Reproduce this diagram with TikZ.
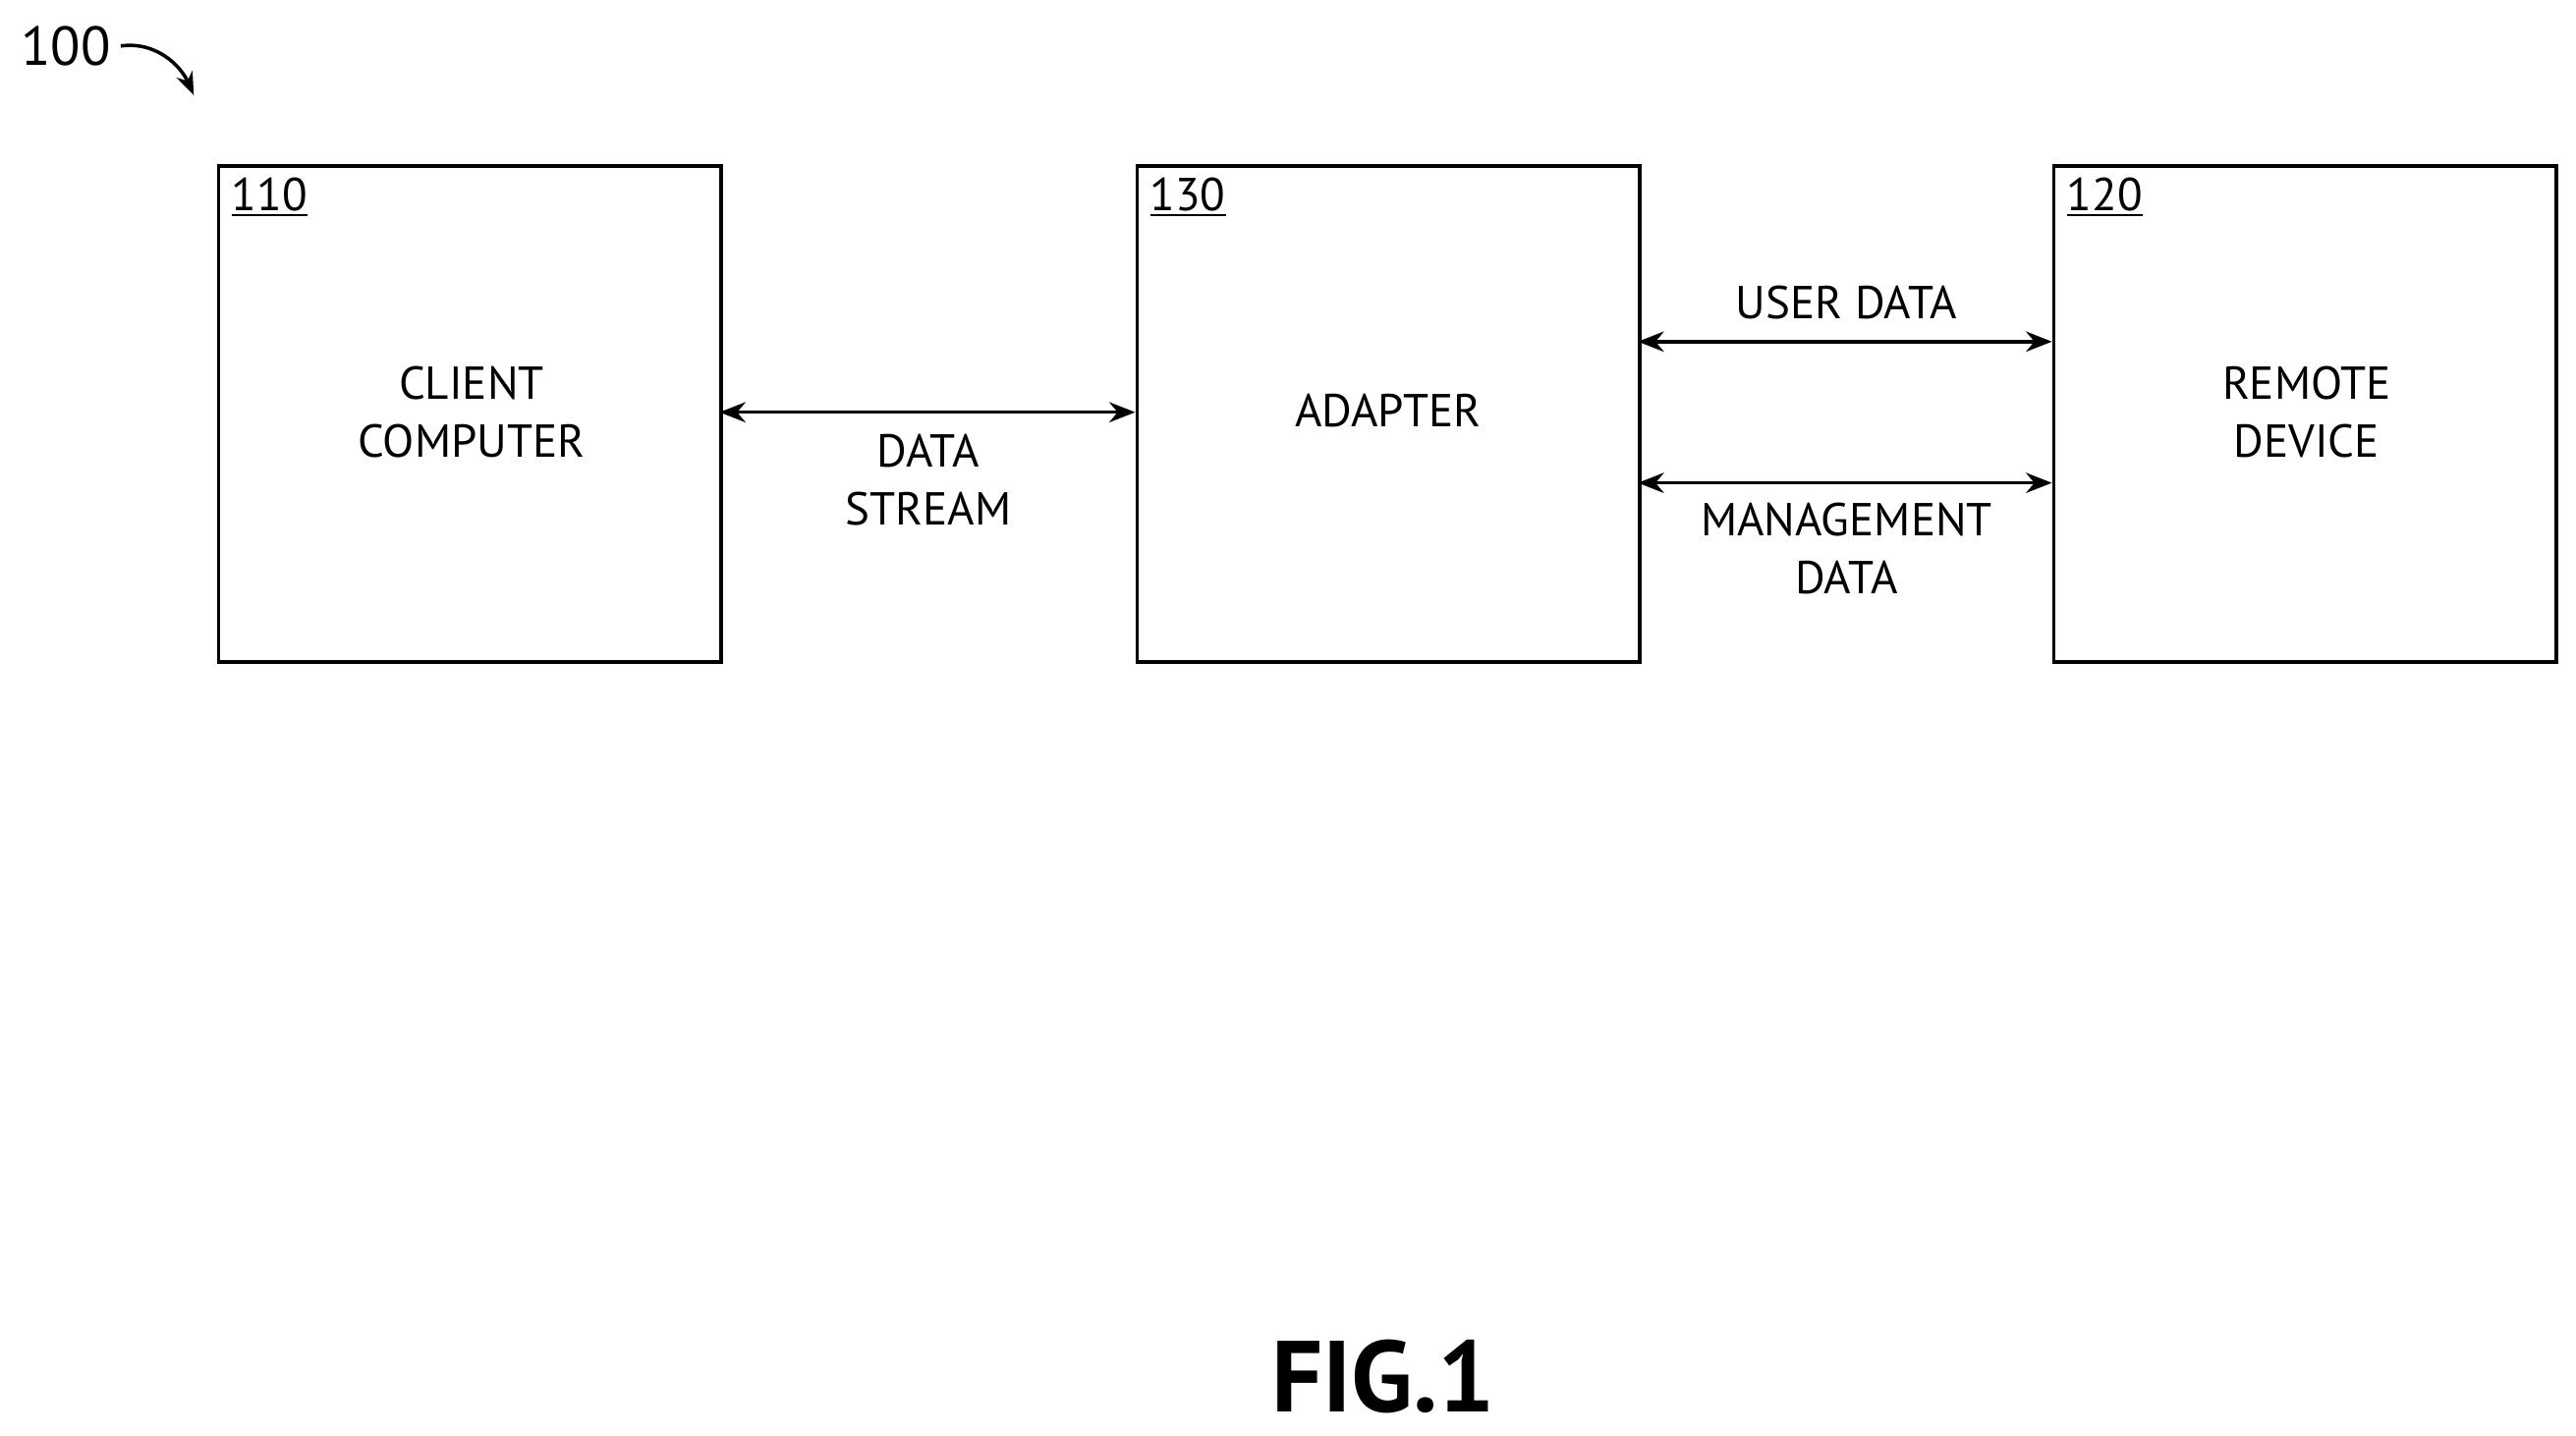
\documentclass[tikz,border=0pt]{standalone}
\usepackage{fontspec}
\setmainfont{PT Sans}
\usetikzlibrary{arrows.meta,positioning}

\tikzset{
  block/.style={draw, line width=1.2pt, minimum width=6.12cm, minimum height=6.04cm, anchor=north west},
  refnum/.style={anchor=north west, font=\fontsize{16}{19}\selectfont, inner sep=1pt},
  lbl/.style={align=center, font=\fontsize{16}{20}\selectfont},
  link/.style={line width=1.2pt, {Stealth[length=9pt,width=7pt]}-{Stealth[length=9pt,width=7pt]}}
}

\begin{document}
\begin{tikzpicture}[x=0.02cm, y=-0.02cm]
    \useasboundingbox (0,0) rectangle (1568,874);
    % boxes
    \node[block] at (132,100) (client) {};
    \node[block] at (691,100) (adapter) {};
    \node[block] at (1249,100) (remote) {};
    \node[refnum] at (139,106) {\underline{110}};
    \node[refnum] at (698,106) {\underline{130}};
    \node[refnum] at (1256,106) {\underline{120}};
    \node[lbl] at (287,251) {CLIENT\\COMPUTER};
    \node[lbl] at (845,250) {ADAPTER};
    \node[lbl] at (1404,251) {REMOTE\\DEVICE};
    % connectors
    \coordinate (c1) at (438,251);
    \coordinate (a1) at (691,251);
    \coordinate (a2) at (997,208);
    \coordinate (r2) at (1249,208);
    \coordinate (a3) at (997,294);
    \coordinate (r3) at (1249,294);
    \draw[link] (c1) -- (a1);
    \draw[link] (a2) -- (r2);
    \draw[link] (a3) -- (r3);
    \node[lbl] at (565,292) {DATA\\STREAM};
    \node[lbl] at (1124,184) {USER DATA};
    \node[lbl] at (1124,334) {MANAGEMENT\\DATA};
    % figure number
    \node[font=\fontsize{19}{21}\selectfont] at (40,28) (fig) {100};
    \coordinate (tip) at (118,58);
    \draw[line width=1.2pt, -{Stealth[length=8pt,width=6pt]}] (fig.east) .. controls (95,25) and (110,40) .. (tip);
    \node[inner sep=0pt, font=\bfseries\fontsize{35}{38}\selectfont] at (842,838) {FIG.1};
\end{tikzpicture}
\end{document}
